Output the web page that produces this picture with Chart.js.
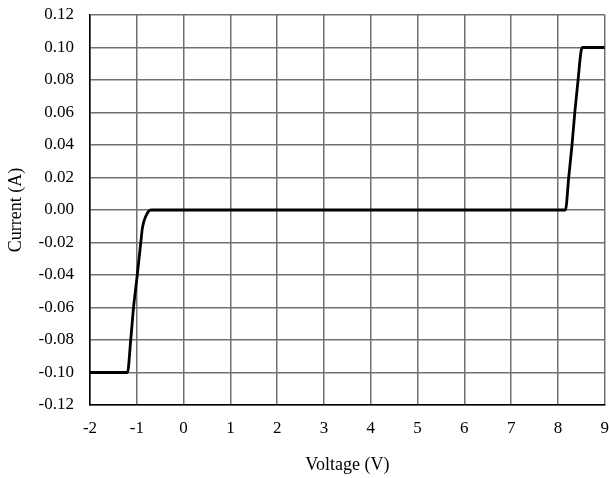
<!DOCTYPE html>
<html>
<head>
<meta charset="utf-8">
<script src="https://cdn.jsdelivr.net/npm/chart.js@4"></script>
<style>
  html, body { margin: 0; padding: 0; background: #fff; }
  #wrap { width: 609px; height: 478px; position: relative; }
</style>
</head>
<body>
<div id="wrap"><canvas id="iv-chart"></canvas></div>
<script>
// I-V curve
const voltage = [-2, -1.2, -1.13, -1.07, -0.99, -0.915, -0.88, -0.81, -0.70, 8.16, 8.23, 8.30, 8.36, 8.43, 8.49, 8.52, 9];
const current = [-0.100, -0.100, -0.080, -0.060, -0.040, -0.020, -0.011, -0.004, 0.000, 0.000, 0.020, 0.040, 0.060, 0.080, 0.097, 0.100, 0.100];

const xMin = -2, xMax = 9, xStep = 1;
const yMin = -0.12, yMax = 0.12, yStep = 0.02;

document.addEventListener("DOMContentLoaded", function() {
    const ctx = document.getElementById("iv-chart").getContext("2d");
    const family = "'Liberation Serif', 'Times New Roman', serif";
    const tickFont = { family: family, size: 17 };
    const titleFont = { family: family, size: 18 };

    const points = voltage.map((v, i) => ({ x: v, y: current[i] }));

    // tick marks are kept invisible; their length gives the gap to the labels
    const gridOpts = (len) => ({
        color: "#707070", lineWidth: 1.5,
        drawTicks: true, tickLength: len, tickColor: "rgba(0,0,0,0)"
    });

    new Chart(ctx, {
        type: "line",
        data: {
            datasets: [{
                data: points,
                borderColor: "#000",
                borderWidth: 2.8,
                pointRadius: 0,
                cubicInterpolationMode: "monotone",
                fill: false
            }]
        },
        options: {
            responsive: true,
            maintainAspectRatio: false,
            animation: false,
            layout: { padding: { left: 5, right: 0, top: 15, bottom: 2 } },
            plugins: { legend: { display: false }, tooltip: { enabled: false } },
            scales: {
                x: {
                    type: "linear",
                    min: xMin, max: xMax,
                    ticks: { stepSize: xStep, color: "#000", font: tickFont, padding: 0 },
                    grid: gridOpts(13),
                    border: { color: "#000", width: 1.5 },
                    title: { display: true, text: "Voltage (V)", color: "#000", font: titleFont, padding: { top: 16, bottom: 0 } }
                },
                y: {
                    min: yMin, max: yMax,
                    ticks: {
                        stepSize: yStep, color: "#000", font: tickFont, padding: 0,
                        callback: function(v) {
                            const s = Number(v).toFixed(2);
                            return s === "-0.00" ? "0.00" : s;
                        }
                    },
                    grid: gridOpts(16),
                    border: { color: "#000", width: 1.5 },
                    title: { display: true, text: "Current (A)", color: "#000", font: titleFont, padding: { top: 0, bottom: 12 } }
                }
            }
        }
    });
});
</script>
</body>
</html>
